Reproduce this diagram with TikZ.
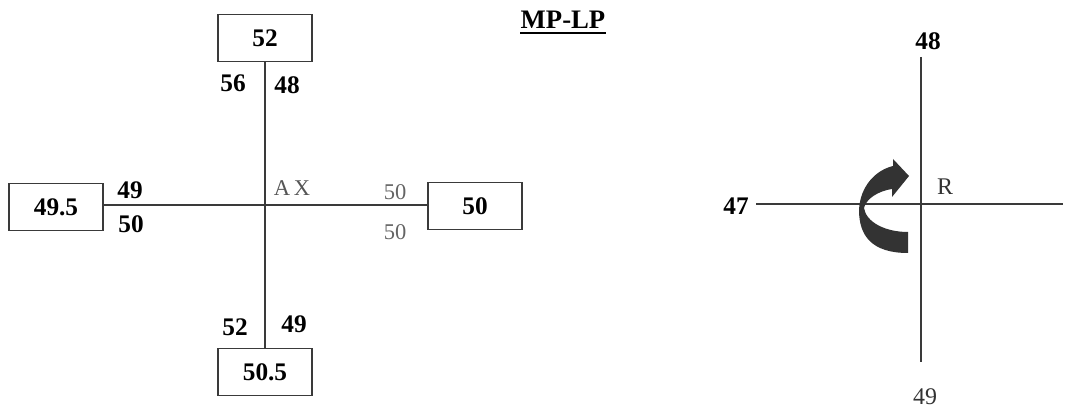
\documentclass[tikz,border=0pt]{standalone}
\usepackage{fontspec}
\setmainfont{Liberation Serif}
\usepackage{xcolor}
\definecolor{inkline}{HTML}{3A3A3A}
\definecolor{inkgray}{HTML}{646464}
\definecolor{inkdark}{HTML}{333333}

\begin{document}
\begin{tikzpicture}[x=0.025cm,y=-0.025cm,
    valbox/.style={draw=inkline,line width=0.9pt,minimum width=2.35cm,minimum height=1.18cm,
      inner sep=0pt,font=\fontsize{18}{21}\selectfont\bfseries},
    val/.style={inner sep=0pt,font=\fontsize{18}{21}\selectfont\bfseries},
    grayval/.style={inner sep=0pt,text=inkgray,font=\fontsize{16}{19}\selectfont},
    wire/.style={draw=inkline,line width=0.9pt}]
    \useasboundingbox (0,0) rectangle (1082,418);

    % left cross
    \coordinate (ax) at (265,205);
    \node[valbox] (top) at (265,38) {52};
    \node[valbox] (bot) at (265,372) {50.5};
    \node[valbox] (lft) at (56,207) {49.5};
    \node[valbox] (rgt) at (475,206) {50};

    \draw[wire] (top.south) -- (bot.north);
    \draw[wire] (ax -| lft.east) -- (ax -| rgt.west);

    \node[val] (t56) at (233,83) {56};
    \node[val] (t48) at (287,85) {48};
    \node[val] (l49) at (130,190) {49};
    \node[val] (l50) at (131,224) {50};
    \node[val] (b52) at (235,327) {52};
    \node[val] (b49) at (294,324) {49};
    \node[grayval,text=inkgray!85!black] (axl) at (292,188) {A\,X};
    \node[grayval] (r50a) at (395,192) {50};
    \node[grayval] (r50b) at (395,232) {50};

    % title
    \node[inner sep=0pt,anchor=base,font=\fontsize{19}{22}\selectfont\bfseries] (ttl) at (563,29) {MP-LP};
    \draw[line width=1.8pt] ([yshift=-2.6pt]ttl.south west) -- ([yshift=-2.6pt]ttl.south east);

    % right cross
    \coordinate (rt) at (921,57);
    \coordinate (rb) at (921,362);
    \coordinate (rl) at (756,204);
    \coordinate (rr) at (1063,204);
    \draw[wire] (rt) -- (rb);
    \draw[wire] (rl) -- (rr);

    \node[val] (n48) at (928,41) {48};
    \node[val] (n47) at (736,206) {47};
    \node[inner sep=0pt,text=inkdark,font=\fontsize{17}{20}\selectfont] (rlab) at (945,187) {R};
    \node[inner sep=0pt,text=inkdark,font=\fontsize{17}{20}\selectfont] (n49) at (925,397) {49};

    % turning arrow
    \fill[inkdark] (908,253) .. controls (872,253) and (859,236) .. (859,210)
      .. controls (860,186) and (876,170) .. (893,166) -- (893,159) -- (909,176)
      -- (892,197) -- (892,189) .. controls (878,191) and (866,199) .. (864,208)
      .. controls (866,222) and (885,232) .. (908,232) -- cycle;
\end{tikzpicture}
\end{document}
